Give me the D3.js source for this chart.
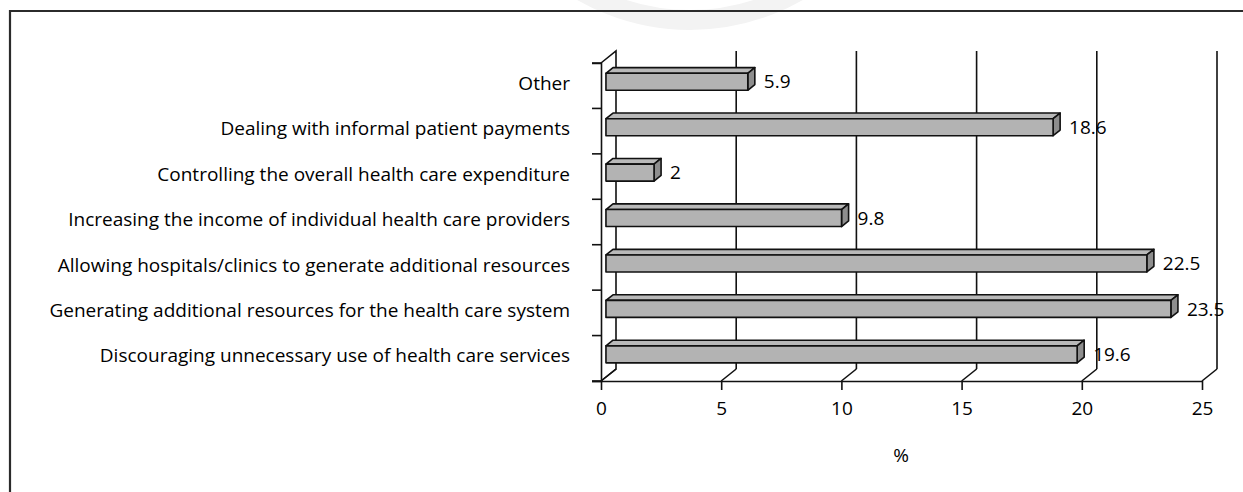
<!DOCTYPE html>
<html>
<head>
<meta charset="utf-8">
<script src="https://cdn.jsdelivr.net/npm/d3@7"></script>
<style>
  body { margin: 0; background: #fff; }
  svg { display: block; font-family: "Open Sans", sans-serif; }
</style>
</head>
<body>
<div class="viz"></div>
<script>
// categories from top to bottom, as in the chart
const categories = [
  "Other",
  "Dealing with informal patient payments",
  "Controlling the overall health care expenditure",
  "Increasing the income of individual health care providers",
  "Allowing hospitals/clinics to generate additional resources",
  "Generating additional resources for the health care system",
  "Discouraging unnecessary use of health care services"
];
const values = [5.9, 18.6, 2, 9.8, 22.5, 23.5, 19.6];
const xTicks = [0, 5, 10, 15, 20, 25];
const axisTitle = "%";

const width = 1243, height = 492;
const plot = {left: 601, right: 1202, top: 63, bottom: 381};
// fake 3d: depth offset of the back wall
const depth = {dx: 15, dy: -12};
const barFront = 0.33, barBack = 0.8;   // fraction of depth the bars take
const barH = 17;
const fontSize = 19;

const svg = d3.select('.viz').append('svg')
    .attr('width', width)
    .attr('height', height);

// faint watermark ring at the top
svg.append("circle")
    .attr("cx", 690).attr("cy", -197).attr("r", 217)
    .attr("fill", "none")
    .attr("stroke", "#f3f3f3")
    .attr("stroke-width", 20);

// outer frame (runs off the page on the right and bottom)
svg.append("path")
    .attr("d", `M10,${height + 5}V11H${width + 5}`)
    .attr("fill", "none")
    .attr("stroke", "#2b2b2b")
    .attr("stroke-width", 2.2);

const x = d3.scaleLinear()
    .domain([0, 25])
    .range([plot.left, plot.right]);

const y = d3.scaleBand()
    .domain(categories)
    .range([plot.top, plot.bottom]);

const data = categories.map((c, i) => ({cat: c, value: values[i]}));

const grid = svg.append("g")
    .attr("stroke", "#111")
    .attr("stroke-width", 1.6)
    .attr("fill", "none");

// left wall
grid.append("path")
    .attr("d", `M${plot.left},${plot.top}L${plot.left + depth.dx},${plot.top + depth.dy}` +
               `V${plot.bottom + depth.dy}L${plot.left},${plot.bottom}`);

// back wall gridlines + floor diagonals
xTicks.forEach(t => {
  const xf = x(t), xb = x(t) + depth.dx;
  if (t > 0) {
    grid.append("line")
        .attr("x1", xb).attr("x2", xb)
        .attr("y1", plot.top + depth.dy).attr("y2", plot.bottom + depth.dy);
  }
  grid.append("line")
      .attr("x1", xf).attr("y1", plot.bottom)
      .attr("x2", xb).attr("y2", plot.bottom + depth.dy);
});

// bars
const bars = svg.append("g")
    .attr("stroke", "#111")
    .attr("stroke-width", 1.6)
    .attr("stroke-linejoin", "round");

data.forEach(d => {
  const cy = y(d.cat) + y.bandwidth() / 2 + barFront * depth.dy;
  const x0 = x(0) + barFront * depth.dx;
  const x1 = x(d.value) + barFront * depth.dx;
  const ox = (barBack - barFront) * depth.dx;
  const oy = (barBack - barFront) * depth.dy;
  const t = cy - barH / 2, b = cy + barH / 2;

  bars.append("path")
      .attr("fill", "#b9b9b9")
      .attr("d", `M${x0},${t}L${x0 + ox},${t + oy}L${x1 + ox},${t + oy}L${x1},${t}Z`);
  bars.append("path")
      .attr("fill", "#8e8e8e")
      .attr("d", `M${x1},${t}L${x1 + ox},${t + oy}L${x1 + ox},${b + oy}L${x1},${b}Z`);
  bars.append("rect")
      .attr("fill", "#b3b3b3")
      .attr("x", x0).attr("y", t)
      .attr("width", x1 - x0).attr("height", barH);

  svg.append("text")
      .attr("x", x1 + 16)
      .attr("y", cy)
      .attr("dy", "0.35em")
      .attr("font-size", fontSize)
      .attr("fill", "#000")
      .text(d.value);
});

// category axis
const yAxis = g => g
    .attr("transform", `translate(${plot.left},0)`)
    .call(d3.axisLeft(y).tickSize(9).tickSizeOuter(9).tickPadding(22))
    .call(g => g.selectAll(".tick line").remove())
    .call(g => g.select(".domain").attr("stroke-width", 1.6).attr("stroke", "#111"));

svg.append("g").call(yAxis)
    .call(g => g.selectAll(".tick text")
        .attr("font-size", fontSize)
        .attr("font-family", "'Open Sans', sans-serif")
        .attr("fill", "#000")
        .attr("transform", "translate(0,-2)"));

// category boundary ticks
svg.append("g")
    .attr("stroke", "#111").attr("stroke-width", 1.6)
  .selectAll("line").data(categories.concat([null])).enter().append("line")
    .attr("x1", plot.left - 9).attr("x2", plot.left)
    .attr("y1", (d, i) => plot.top + i * y.step())
    .attr("y2", (d, i) => plot.top + i * y.step());

// value axis
const xAxis = g => g
    .attr("transform", `translate(0,${plot.bottom})`)
    .call(d3.axisBottom(x).tickValues(xTicks).tickSize(9).tickPadding(12))
    .call(g => g.select(".domain").attr("d", `M${plot.left - 9},0.5H${plot.right}`))
    .call(g => g.selectAll("line, path").attr("stroke", "#111").attr("stroke-width", 1.6))
    .call(g => g.selectAll(".tick text")
        .attr("font-size", fontSize)
        .attr("font-family", "'Open Sans', sans-serif")
        .attr("fill", "#000"));

svg.append("g").call(xAxis);

svg.append("text")
    .attr("x", 901)
    .attr("y", 455)
    .attr("dy", "0.35em")
    .attr("text-anchor", "middle")
    .attr("font-size", fontSize)
    .attr("fill", "#000")
    .text(axisTitle);
</script>
</body>
</html>
